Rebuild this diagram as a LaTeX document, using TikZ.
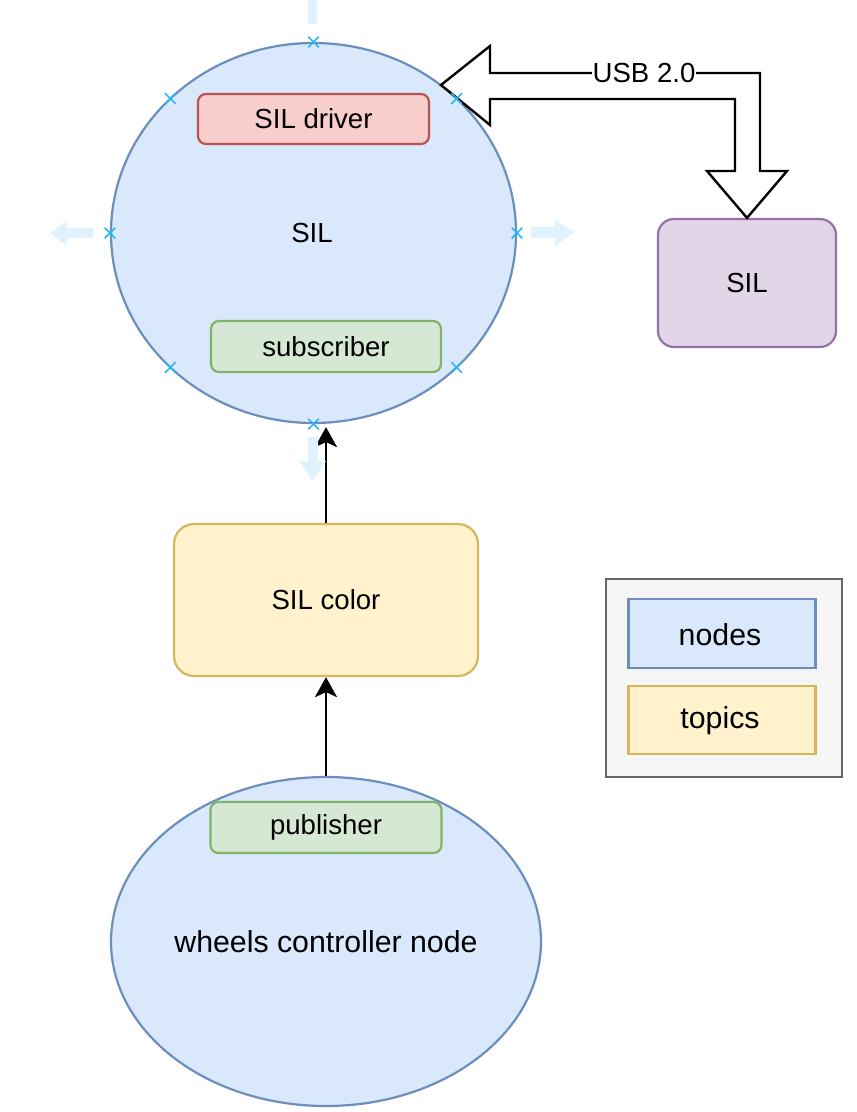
\documentclass[tikz,border=0pt]{standalone}
\usepackage{fontspec}
\setmainfont{Liberation Sans}
\usetikzlibrary{shapes.geometric,shapes.misc,arrows.meta,calc}
\definecolor{nodefill}{HTML}{DAE8FC}
\definecolor{nodeline}{HTML}{6C8EBF}
\definecolor{redfill}{HTML}{F8CECC}
\definecolor{redline}{HTML}{B85450}
\definecolor{greenfill}{HTML}{D5E8D4}
\definecolor{greenline}{HTML}{82B366}
\definecolor{purplefill}{HTML}{E1D5E7}
\definecolor{purpleline}{HTML}{9673A6}
\definecolor{topicfill}{HTML}{FFF2CC}
\definecolor{topicline}{HTML}{D6B656}
\definecolor{grayfill}{HTML}{F5F5F5}
\definecolor{grayline}{HTML}{666666}
\definecolor{hintblue}{RGB}{223,242,253}
\definecolor{markblue}{HTML}{29B6F2}
\tikzset{
  base/.style={line width=2.2pt, inner sep=0pt, font=\fontsize{27.6}{32}\selectfont, text=black},
  bigtext/.style={font=\fontsize{30.3}{35}\selectfont},
  rosnode/.style={base, ellipse, draw=nodeline, fill=nodefill},
  driverbox/.style={base, rectangle, rounded corners=8pt, draw=redline, fill=redfill},
  subbox/.style={base, rectangle, rounded corners=8pt, draw=greenline, fill=greenfill},
  hwbox/.style={base, rectangle, rounded corners=16pt, draw=purpleline, fill=purplefill},
  topicbox/.style={base, rectangle, rounded corners=20pt, draw=topicline, fill=topicfill},
  legendframe/.style={base, rectangle, draw=grayline, fill=grayfill},
  legnode/.style={base, rectangle, draw=nodeline, fill=nodefill},
  legtopic/.style={base, rectangle, draw=topicline, fill=topicfill},
  flowarrow/.style={line width=2.8pt, -{Stealth[length=20pt,width=22pt,inset=5pt]}},
  flexarrow/.style={line width=2.4pt, draw=black, fill=white, line join=miter},
  hint/.style={fill=hintblue, draw=none},
  xmark/.style={cross out, draw=markblue, line width=1.6pt, minimum size=9pt, inner sep=0pt}
}
\begin{document}
\begin{tikzpicture}[x=1pt,y=-1pt]
\useasboundingbox (0,0) rectangle (857,1112);

% SIL node
\node[rosnode, minimum width=405pt, minimum height=380pt] (sil) at (313.5,233) {};
\node[base] (siltext) at (312,233) {SIL};
\node[driverbox, minimum width=231pt, minimum height=50pt] (driver) at (313.5,119) {SIL driver};
\node[subbox, minimum width=230pt, minimum height=51pt] (sub) at (326,346.5) {subscriber};

% hardware SIL
\node[hwbox, minimum width=178pt, minimum height=128pt] (hw) at (747,283) {SIL};

% topic
\node[topicbox, minimum width=304pt, minimum height=152pt] (color) at (326,600) {SIL color};

% wheels node
\node[rosnode, minimum width=430pt, minimum height=329pt] (wheels) at (326,941.5) {};
\node[base, bigtext] (wheelstext) at (326,942) {wheels controller node};
\node[subbox, minimum width=231pt, minimum height=51pt] (pub) at (326,827.5) {publisher};

% legend
\node[legendframe, minimum width=236pt, minimum height=198pt] (legend) at (724,678) {};
\node[legnode, minimum width=187pt, minimum height=69pt] (legn) at (722,633.5) {};
\node[base, bigtext] (legntext) at (720,635) {nodes};
\node[legtopic, minimum width=187pt, minimum height=68pt] (legt) at (722,720) {};
\node[base, bigtext] (legttext) at (720,721) {topics};

% flow arrows
\draw[flowarrow] (color.north) -- ($(color.north |- sil.south)+(0,3)$);
\draw[flowarrow] (wheels.north) -- (color.south);

% USB double (flex) arrow
\coordinate (usbA) at (441,85);
\coordinate (usbB) at (hw.north);
\draw[flexarrow] (usbA) -- (490,46) -- (490,73) -- (760,73) -- (760,171) -- (787,171)
  -- (usbB) -- (707,171) -- (735,171) -- (735,99) -- (490,99) -- (490,125) -- cycle;
\node[base, fill=white, inner sep=1pt] (usb) at (644,73) {USB 2.0};

% hover hint arrows
\fill[hint] (308,0) rectangle (317,24);
\fill[hint] (50,233) -- (67,220) -- (67,228) -- (93,228) -- (93,238) -- (67,238) -- (67,246) -- cycle;
\fill[hint] (574,232.5) -- (555,219) -- (555,227) -- (531,227) -- (531,238) -- (555,238) -- (555,246) -- cycle;
\fill[hint] (312.5,481) -- (299,461) -- (308,461) -- (308,437) -- (318,437) -- (318,461) -- (326,461) -- cycle;

% connection markers
\node[xmark] (m1) at (sil.north) {};
\node[xmark] (m2) at (sil.south) {};
\node[xmark] (m3) at (sil.west) {};
\node[xmark] (m4) at (sil.east) {};
\node[xmark] (m5) at ($(sil.center)+(143.2,-134.4)$) {};
\node[xmark] (m6) at ($(sil.center)+(-143.2,-134.4)$) {};
\node[xmark] (m7) at ($(sil.center)+(143.2,134.4)$) {};
\node[xmark] (m8) at ($(sil.center)+(-143.2,134.4)$) {};
\end{tikzpicture}
\end{document}
